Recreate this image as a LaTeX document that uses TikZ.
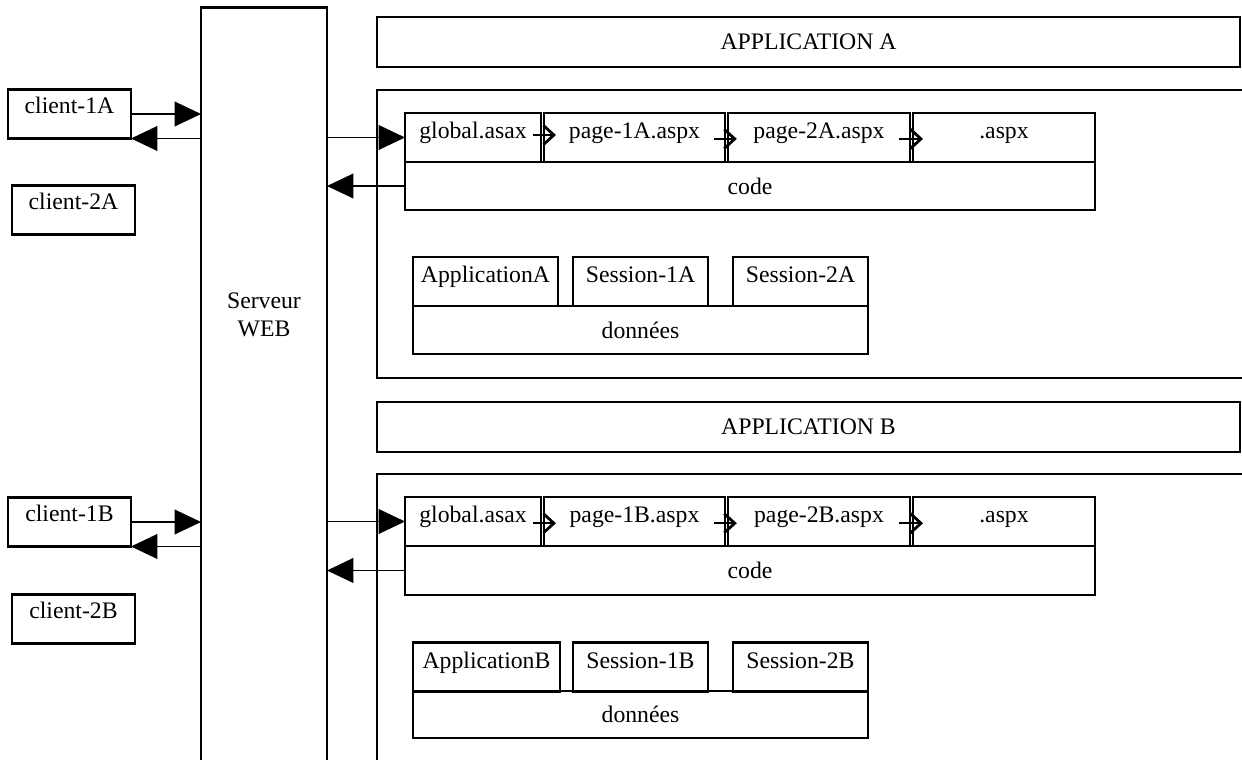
\documentclass[tikz,border=0pt]{standalone}
\usepackage{fontspec}
\setmainfont{Liberation Serif}
\usetikzlibrary{arrows.meta}

\begin{document}
\begin{tikzpicture}[x=0.02cm, y=-0.02cm,
    box/.style={draw, line width=1.3pt, inner sep=0pt, outer sep=0pt,
        font=\fontsize{13.5}{16}\selectfont},
    client/.style={box, minimum width=2.46cm, text height=0.48cm, text depth=0.5cm},
    page/.style={box, text height=0.52cm, text depth=0.46cm},
    big/.style={-{Triangle[length=15pt,width=14pt]}, line width=1.1pt},
    chev/.style={-{Straight Barb[length=6pt,width=11pt,line width=1.6pt]}, line width=1.1pt}]

    \useasboundingbox (0,0) rectangle (1242,760);
    \clip (0,0) rectangle (1242,760);

    % Clients
    \node[client] (c1A) at (69.5,114) {client-1A};
    \node[client] (c2A) at (73.5,210) {client-2A};
    \node[client] (c1B) at (69.5,522) {client-1B};
    \node[client] (c2B) at (73.5,619) {client-2B};

    % Serveur
    \node[box, minimum width=2.52cm, minimum height=17.9cm] (srv) at (264,455) {};
    \node[box, draw=none, align=center] (srvlbl) at (264,315) {Serveur\\WEB};

    % Titles
    \node[box, minimum width=17.26cm, minimum height=1cm] (tA) at (808.5,42) {APPLICATION A};
    \node[box, minimum width=17.26cm, minimum height=1cm] (tB) at (808.5,427) {APPLICATION B};

    % Application frames
    \draw[line width=1.3pt] (377,90) rectangle (1300,378);
    \draw[line width=1.3pt] (377,474) rectangle (1300,800);

    % Code A
    \node[page, minimum width=2.72cm] (gA) at (473,137.5) {global.asax};
    \node[page, minimum width=3.62cm] (p1A) at (634.5,137.5) {page-1A.aspx};
    \node[page, minimum width=3.64cm] (p2A) at (819,137.5) {page-2A.aspx};
    \node[page, minimum width=3.64cm] (xA) at (1004,137.5) {.aspx};
    \node[box, minimum width=13.8cm, minimum height=0.96cm] (codeA) at (750,186) {code};

    % Data A
    \node[page, minimum width=2.9cm] (aA) at (485.5,281.5) {ApplicationA};
    \node[page, minimum width=2.7cm] (s1A) at (640.5,281.5) {Session-1A};
    \node[page, minimum width=2.7cm] (s2A) at (800.5,281.5) {Session-2A};
    \node[box, minimum width=9.1cm, minimum height=0.96cm] (dA) at (640.5,330) {données};

    % Code B
    \node[page, minimum width=2.72cm] (gB) at (473,521.5) {global.asax};
    \node[page, minimum width=3.62cm] (p1B) at (634.5,521.5) {page-1B.aspx};
    \node[page, minimum width=3.64cm] (p2B) at (819,521.5) {page-2B.aspx};
    \node[page, minimum width=3.64cm] (xB) at (1004,521.5) {.aspx};
    \node[box, minimum width=13.8cm, minimum height=0.98cm] (codeB) at (750,570.5) {code};

    % Data B
    \node[page, minimum width=2.94cm] (aB) at (486.5,667) {ApplicationB};
    \node[page, minimum width=2.7cm] (s1B) at (640.5,667) {Session-1B};
    \node[page, minimum width=2.7cm] (s2B) at (800.5,667) {Session-2B};
    \node[box, minimum width=9.1cm, minimum height=0.94cm] (dB) at (640.5,714.5) {données};

    % Requests and answers
    \draw[big] (c1A.east) -- (c1A.east -| srv.west);
    \draw[big] (c1A.south east -| srv.west) -- (c1A.south east);
    \draw[big] (gA.west -| srv.east) -- (gA.west);
    \draw[big] (codeA.west) -- (codeA.west -| srv.east);

    \draw[big] (c1B.east) -- (c1B.east -| srv.west);
    \draw[big] (c1B.south east -| srv.west) -- (c1B.south east);
    \draw[big] (gB.west -| srv.east) -- (gB.west);
    \draw[big] (codeB.west) -- (codeB.west -| srv.east);

    % Page chain
    \draw[chev] ([xshift=-4.5pt,yshift=1.4pt]gA.east) -- ([xshift=6.8pt,yshift=1.4pt]p1A.west);
    \draw[chev] ([xshift=-6.2pt,yshift=-0.8pt]p1A.east) -- ([xshift=5pt,yshift=-0.8pt]p2A.west);
    \draw[chev] ([xshift=-6.2pt,yshift=-0.8pt]p2A.east) -- ([xshift=5.7pt,yshift=-0.8pt]xA.west);

    \draw[chev] ([xshift=-4.5pt,yshift=-1pt]gB.east) -- ([xshift=6.8pt,yshift=-1pt]p1B.west);
    \draw[chev] ([xshift=-6.2pt,yshift=-1pt]p1B.east) -- ([xshift=5pt,yshift=-1pt]p2B.west);
    \draw[chev] ([xshift=-6.2pt,yshift=-1pt]p2B.east) -- ([xshift=5.7pt,yshift=-1pt]xB.west);

\end{tikzpicture}
\end{document}
